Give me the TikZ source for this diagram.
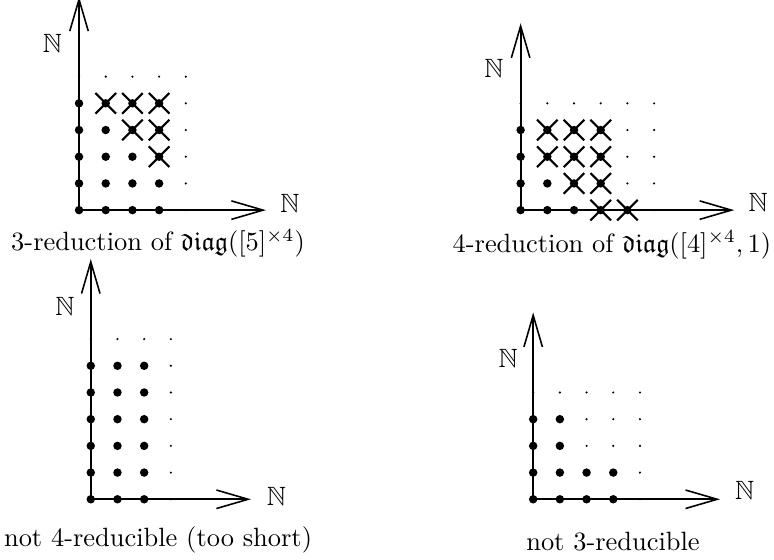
\documentclass[tikz,border=0pt]{standalone}
\usepackage{amsmath,amssymb}
\usetikzlibrary{arrows.meta,shapes.misc}

\begin{document}
\begin{tikzpicture}[x=10.1pt,y=10.1pt,
    axis/.style={thick,-{Straight Barb[length=12pt,width=7pt,line width=0.6pt]}},
    bigdot/.style={circle,fill,inner sep=0pt,minimum size=3.2pt},
    smalldot/.style={circle,fill,inner sep=0pt,minimum size=0.9pt},
    xmark/.style={cross out,draw,line width=0.8pt,inner sep=0pt,minimum size=7pt}
]
  \useasboundingbox (0,0) rectangle (28.99,-20.97);

  % 3-reduction of diag([5]^4)
  \begin{scope}[shift={(2.96,-7.87)}]
    \foreach \i in {0,...,4} \foreach \j in {0,...,5} \node[smalldot] at (\i,\j) {};
    \foreach \i in {0,...,3} \foreach \j in {0,...,4} \node[bigdot] at (\i,\j) {};
    \foreach \p in {(3,2),(2,3),(3,3),(1,4),(2,4),(3,4)} \node[xmark] at \p {};
    \coordinate (oa) at (0,0);
    \coordinate (xa) at (7,0);
    \coordinate (ya) at (0,8);
    \draw[axis] (oa) -- (xa);
    \draw[axis] (oa) -- (ya);
    \node (nxa) at (7.9,0.25) {$\mathbb{N}$};
    \node (nya) at (-1,6.25) {$\mathbb{N}$};
    \node (capa) at (2.96,-1.24) {3-reduction of $\mathfrak{diag}([5]^{\times 4})$};
  \end{scope}

  % 4-reduction of diag([4]^4,1)
  \begin{scope}[shift={(19.50,-7.87)}]
    \foreach \i in {0,...,5} \foreach \j in {0,...,4} \node[smalldot] at (\i,\j) {};
    \foreach \i in {0,...,4} \node[bigdot] at (\i,0) {};
    \foreach \i in {0,...,3} \foreach \j in {1,...,3} \node[bigdot] at (\i,\j) {};
    \foreach \p in {(3,0),(4,0),(2,1),(3,1),(1,2),(2,2),(3,2),(1,3),(2,3),(3,3)}
      \node[xmark] at \p {};
    \coordinate (ob) at (0,0);
    \coordinate (xb) at (8,0);
    \coordinate (yb) at (0,7);
    \draw[axis] (ob) -- (xb);
    \draw[axis] (ob) -- (yb);
    \node (nxb) at (8.9,0.3) {$\mathbb{N}$};
    \node (nyb) at (-1,5.3) {$\mathbb{N}$};
    \node (capb) at (3.42,-1.31) {4-reduction of $\mathfrak{diag}([4]^{\times 4},1)$};
  \end{scope}

  % too short
  \begin{scope}[shift={(3.40,-18.70)}]
    \foreach \i in {0,...,3} \foreach \j in {0,...,6} \node[smalldot] at (\i,\j) {};
    \foreach \i in {0,...,2} \foreach \j in {0,...,5} \node[bigdot] at (\i,\j) {};
    \coordinate (oc) at (0,0);
    \coordinate (xc) at (6,0);
    \coordinate (yc) at (0,9);
    \draw[axis] (oc) -- (xc);
    \draw[axis] (oc) -- (yc);
    \node (nxc) at (6.95,0.12) {$\mathbb{N}$};
    \node (nyc) at (-0.97,7.22) {$\mathbb{N}$};
    \node (capc) at (2.52,-1.52) {not 4-reducible (too short)};
  \end{scope}

  % not 3-reducible
  \begin{scope}[shift={(19.97,-18.70)}]
    \foreach \i in {0,...,4} \foreach \j in {0,...,4} \node[smalldot] at (\i,\j) {};
    \foreach \i in {0,...,3} \foreach \j in {0,1} \node[bigdot] at (\i,\j) {};
    \foreach \i in {0,1} \foreach \j in {2,3} \node[bigdot] at (\i,\j) {};
    \coordinate (od) at (0,0);
    \coordinate (xd) at (7,0);
    \coordinate (yd) at (0,7);
    \draw[axis] (od) -- (xd);
    \draw[axis] (od) -- (yd);
    \node (nxd) at (7.92,0.35) {$\mathbb{N}$};
    \node (nyd) at (-0.94,5.28) {$\mathbb{N}$};
    \node (capd) at (2.99,-1.59) {not 3-reducible};
  \end{scope}
\end{tikzpicture}
\end{document}
